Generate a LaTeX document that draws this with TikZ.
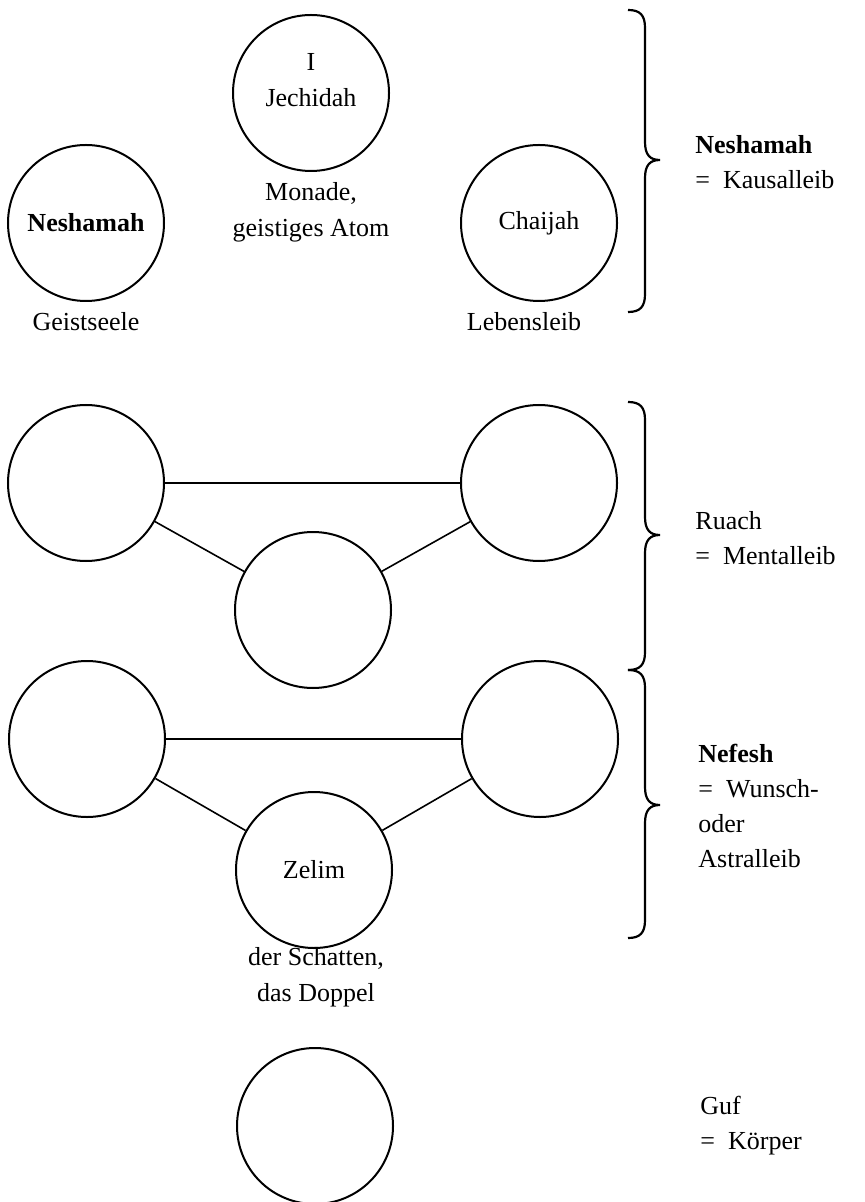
\documentclass[tikz,border=0pt]{standalone}
\usepackage{fontspec}
\setmainfont{Liberation Serif}
\begin{document}
\begin{tikzpicture}[x=0.5pt,y=-0.5pt,
  ring/.style={draw,circle,line width=1pt,minimum size=78pt,inner sep=0pt,font=\fontsize{13}{18}\selectfont},
  txt/.style={font=\fontsize{13}{18}\selectfont,align=center,inner sep=0pt},
  side/.style={font=\fontsize{13}{17.5}\selectfont,align=left,anchor=west,inner sep=0pt},
  link/.style={line width=0.8pt},
  bracepath/.style={line width=1.1pt}]
\useasboundingbox (0,0) rectangle (864,1202);
% top group
\node[ring] (jech) at (311,93) {};
\node[txt] (jI) at (311,62) {I};
\node[txt] (jname) at (311,98) {Jechidah};
\node[txt] (monade) at (311,212) {Monade,\\geistiges Atom};
\node[ring] (nesh) at (86,223) {\textbf{Neshamah}};
\node[ring] (chai) at (539,223) {Chaijah};
\node[txt] (geist) at (86,322) {Geistseele};
\node[txt] (leben) at (524,322) {Lebensleib};
% Ruach group
\node[ring] (rl) at (86,483) {};
\node[ring] (rr) at (539,483) {};
\node[ring] (rb) at (313,610) {};
\draw[link] (rl) -- (rr);
\draw[link] (rl) -- (rb);
\draw[link] (rr) -- (rb);
% Nefesh group
\node[ring] (nl) at (87,739) {};
\node[ring] (nr) at (540,739) {};
\node[ring] (nb) at (314,870) {Zelim};
\draw[link] (nl) -- (nr);
\draw[link] (nl) -- (nb);
\draw[link] (nr) -- (nb);
\node[txt] (schatten) at (316,977) {der Schatten,\\das Doppel};
% Guf
\node[ring] (guf) at (315,1126) {};
% braces
\draw[bracepath] (628,10) .. controls (640,10) and (645,15) .. (645,28) -- (645,142)
  .. controls (645,155) and (650,160) .. (660,160)
  .. controls (650,160) and (645,165) .. (645,178) -- (645,294)
  .. controls (645,307) and (640,312) .. (628,312);
\draw[bracepath] (628,402) .. controls (640,402) and (645,407) .. (645,420) -- (645,517)
  .. controls (645,530) and (650,535) .. (660,535)
  .. controls (650,535) and (645,540) .. (645,553) -- (645,652)
  .. controls (645,665) and (640,670) .. (628,670);
\draw[bracepath] (628,670) .. controls (640,670) and (645,675) .. (645,688) -- (645,787)
  .. controls (645,800) and (650,805) .. (660,805)
  .. controls (650,805) and (645,810) .. (645,823) -- (645,920)
  .. controls (645,933) and (640,938) .. (628,938);
% side labels
\node[side] (lnesh) at (695,162) {\textbf{Neshamah}\\=\enspace Kausalleib};
\node[side] (lruach) at (695,538) {Ruach\\=\enspace Mentalleib};
\node[side] (lnef) at (698,806) {\textbf{Nefesh}\\=\enspace Wunsch-\\oder\\Astralleib};
\node[side] (lguf) at (700,1126) {Guf\\=\enspace Körper};
\end{tikzpicture}
\end{document}
